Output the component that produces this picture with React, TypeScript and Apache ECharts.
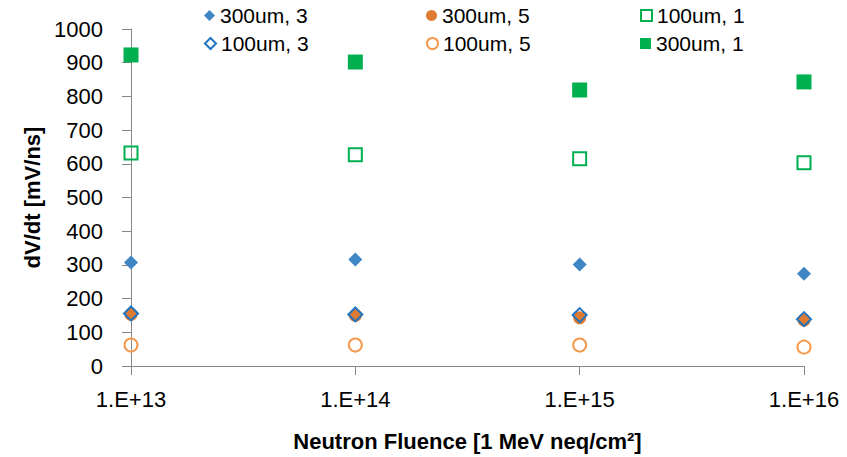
import React, { useEffect, useRef } from "react";
import * as echarts from "echarts";

const fluence = [1e13, 1e14, 1e15, 1e16];
const s300um3 = [307, 316, 301, 274];
const s300um5 = [153, 150, 143, 136];
const s100um1 = [632, 627, 615, 603];
const s100um3 = [156, 153, 151, 139];
const s100um5 = [62, 62, 62, 56];
const s300um1 = [923, 902, 819, 843];

const FONT = "Liberation Sans";

function pts(vals: number[]) {
  return vals.map((v, i) => [fluence[i], v]);
}

export default function App() {
  const ref = useRef<HTMLDivElement>(null);
  useEffect(() => {
    if (!ref.current) return;
    const chart = echarts.init(ref.current, undefined, { renderer: "svg" });
    const legendText = { fontFamily: FONT, fontSize: 21, color: "#000", padding: [0, 0, 0, 0] };
    const mkLegend = (name: string, left: number, top: number) => ({
      data: [name],
      left,
      top,
      itemWidth: 11,
      itemHeight: 11,
      textStyle: legendText,
      selectedMode: false,
    });
    chart.setOption({
      animation: false,
      backgroundColor: "#fff",
      grid: { left: 131, right: 43, top: 29, bottom: 90 },
      legend: [
        mkLegend("300um, 3", 199, 0),
        mkLegend("100um, 3", 199, 28),
        mkLegend("300um, 5", 421, 0),
        mkLegend("100um, 5", 421, 28),
        mkLegend("100um, 1", 635, 0),
        mkLegend("300um, 1", 635, 28),
      ],
      xAxis: {
        type: "log",
        logBase: 10,
        min: 1e13,
        max: 1e16,
        axisLine: { lineStyle: { color: "#868686", width: 1 } },
        axisTick: { show: true, length: 9, lineStyle: { color: "#868686" } },
        splitLine: { show: false },
        axisLabel: {
          fontFamily: FONT,
          fontSize: 22,
          color: "#000",
          margin: 22,
          formatter: (v: number) => "1.E+" + Math.round(Math.log10(v)),
        },
        name: "Neutron Fluence [1 MeV neq/cm²]",
        nameLocation: "middle",
        nameGap: 64,
        nameTextStyle: { fontFamily: FONT, fontSize: 22, fontWeight: "bold", color: "#000" },
      },
      yAxis: {
        type: "value",
        min: 0,
        max: 1000,
        interval: 100,
        axisLine: { show: true, lineStyle: { color: "#868686", width: 1 } },
        axisTick: { show: true, length: 9, lineStyle: { color: "#868686" } },
        splitLine: { show: false },
        axisLabel: { fontFamily: FONT, fontSize: 22, color: "#000", margin: 28, formatter: (v: number) => String(v) },
        name: "dV/dt [mV/ns]",
        nameLocation: "middle",
        nameGap: 88,
        nameTextStyle: { fontFamily: FONT, fontSize: 22, fontWeight: "bold", color: "#000" },
      },
      series: [
        {
          name: "300um, 3",
          type: "scatter",
          symbol: "diamond",
          symbolSize: 14,
          itemStyle: { color: "#3F86C4", opacity: 1 },
          data: pts(s300um3),
        },
        {
          name: "300um, 5",
          type: "scatter",
          symbol: "circle",
          symbolSize: 13,
          itemStyle: { color: "#DE7B32", opacity: 1 },
          data: pts(s300um5),
        },
        {
          name: "100um, 1",
          type: "scatter",
          symbol: "rect",
          symbolSize: 13,
          itemStyle: { color: "transparent", borderColor: "#00B050", borderWidth: 2, opacity: 1 },
          data: pts(s100um1),
        },
        {
          name: "100um, 3",
          type: "scatter",
          symbol: "diamond",
          symbolSize: 14,
          itemStyle: { color: "transparent", borderColor: "#1F74C2", borderWidth: 2, opacity: 1 },
          data: pts(s100um3),
        },
        {
          name: "100um, 5",
          type: "scatter",
          symbol: "circle",
          symbolSize: 13,
          itemStyle: { color: "transparent", borderColor: "#F59A4C", borderWidth: 2, opacity: 1 },
          data: pts(s100um5),
        },
        {
          name: "300um, 1",
          type: "scatter",
          symbol: "rect",
          symbolSize: 15,
          itemStyle: { color: "#00B050", opacity: 1 },
          data: pts(s300um1),
        },
      ],
    });
    return () => chart.dispose();
  }, []);
  return <div ref={ref} style={{ width: 847, height: 457, position: "fixed", left: 0, top: 0 }} />;
}
